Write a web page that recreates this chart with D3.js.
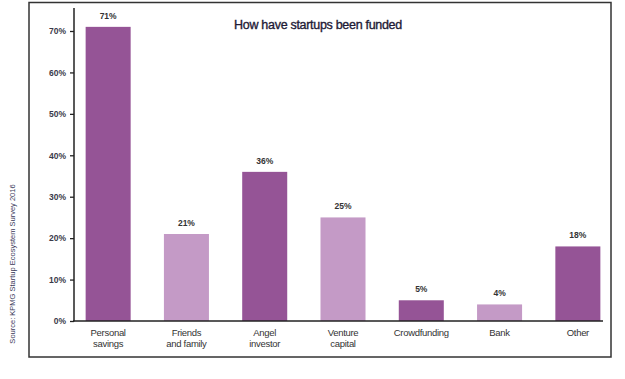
<!DOCTYPE html>
<html><head><meta charset="utf-8">
<script src="https://cdn.jsdelivr.net/npm/d3@7"></script>
<style>body{margin:0;background:#fff}svg{display:block}</style>
</head><body>
<script>
const categories = [["Personal","savings"],["Friends","and family"],["Angel","investor"],["Venture","capital"],["Crowdfunding"],["Bank"],["Other"]];
const values = [71,21,36,25,5,4,18];
const yTicks = [0,10,20,30,40,50,60,70];
const title = "How have startups been funded";
const source = "Source: KPMG Startup Ecosystem Survey 2016";

const W=625,H=379;
const svg=d3.select("body").append("svg").attr("width",W).attr("height",H);
// frame
svg.append("rect").attr("x",29).attr("y",2.5).attr("width",582).attr("height",354.5)
  .attr("fill","none").attr("stroke","#333").attr("stroke-width",1.5);

const x=d3.scaleBand().domain(d3.range(values.length)).range([69,617]).paddingInner(0.425).paddingOuter(0.2125);
const y=d3.scaleLinear().domain([0,70]).range([321,31]);

const colors=["#955496","#c49ac6"];
svg.append("g").selectAll("rect").data(values).join("rect")
  .attr("x",(d,i)=>x(i)).attr("width",x.bandwidth())
  .attr("y",d=>y(d)).attr("height",d=>y(0)-y(d))
  .attr("fill",(d,i)=>colors[i%2]);

// y axis
const ya=svg.append("g").attr("transform","translate(74,0)")
  .call(d3.axisLeft(y).tickValues(yTicks).tickFormat(d=>d+"%").tickSize(4).tickPadding(4));
ya.select(".domain").remove();
ya.selectAll("line").attr("stroke","#222").attr("stroke-width",1.3);
ya.selectAll("text").attr("font-family","Liberation Sans, Arial, sans-serif").attr("font-size",8.5).attr("font-weight","bold").attr("fill","#3a3a4a");
svg.append("line").attr("x1",74).attr("x2",74).attr("y1",8).attr("y2",321.5).attr("stroke","#222").attr("stroke-width",1.5);
svg.append("line").attr("x1",73).attr("x2",603).attr("y1",321).attr("y2",321).attr("stroke","#222").attr("stroke-width",1.5);

// value labels
svg.append("g").selectAll("text").data(values).join("text")
  .attr("x",(d,i)=>x(i)+x.bandwidth()/2).attr("y",d=>y(d)-8)
  .attr("text-anchor","middle").attr("font-family","Liberation Sans, Arial, sans-serif")
  .attr("font-size",8.5).attr("font-weight","bold").attr("fill","#333")
  .text(d=>d+"%");

// category labels
const cl=svg.append("g").selectAll("text").data(categories).join("text")
  .attr("x",(d,i)=>x(i)+x.bandwidth()/2).attr("y",336)
  .attr("text-anchor","middle").attr("font-family","Liberation Sans, Arial, sans-serif")
  .attr("font-size",9.5).attr("fill","#333").attr("letter-spacing",-0.3);
cl.selectAll("tspan").data(d=>d).join("tspan")
  .attr("x",function(){return this.parentNode.getAttribute("x");})
  .attr("dy",(d,i)=>i?11:0).text(d=>d);

// title
svg.append("text").attr("x",318).attr("y",29).attr("text-anchor","middle")
  .attr("font-family","Liberation Sans Narrow, Liberation Sans, sans-serif").attr("font-size",12.5)
  .attr("fill","#1e1a36").attr("stroke","#1e1a36").attr("stroke-width",0.35)
  .attr("letter-spacing",-0.3).text(title);

// source
svg.append("text").attr("transform","translate(15,264) rotate(-90)").attr("text-anchor","middle")
  .attr("font-family","Liberation Sans Narrow, Liberation Sans, sans-serif").attr("font-size",7.5)
  .attr("fill","#3a3a5a").text(source);
</script>
</body></html>
